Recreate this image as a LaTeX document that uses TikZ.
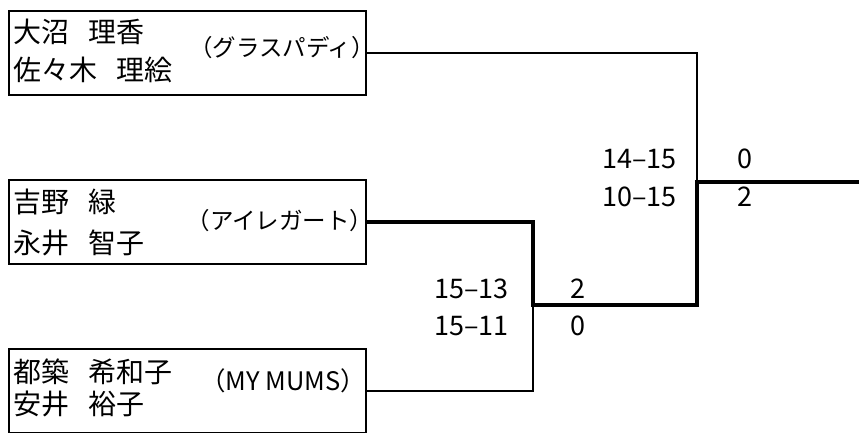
\documentclass[tikz,border=0pt]{standalone}
\usepackage{fontspec}
\setmainfont{Noto Sans CJK JP}
\begin{document}
\begin{tikzpicture}[x=1pt,y=-1pt,
  teambox/.style={draw,line width=2.2pt,minimum width=357pt,minimum height=84pt,anchor=north west,inner sep=0pt},
  namet/.style={anchor=west,font=\fontsize{28}{32}\selectfont,inner sep=0pt},
  teamt/.style={anchor=center,font=\fontsize{23.5}{27}\selectfont,inner sep=0pt},
  scoret/.style={font=\fontsize{27}{30}\selectfont,inner sep=0pt},
  thinline/.style={line width=2pt},
  winline/.style={line width=4.5pt,line cap=rect}]
\useasboundingbox (0,0) rectangle (859,432);
% boxes
\node[teambox] (b1) at (8,10) {};
\node[teambox] (b2) at (8,179) {};
\node[teambox] (b3) at (8,348) {};
% names
\node[namet] (n1a) at (13,32) {大沼\hspace{0.7em}理香};
\node[namet] (n1b) at (13,70) {佐々木\hspace{0.7em}理絵};
\node[teamt] (t1) at (282,48) {（グラスパディ）};
\node[namet] (n2a) at (13,202) {吉野\hspace{0.7em}緑};
\node[namet] (n2b) at (13,243) {永井\hspace{0.7em}智子};
\node[teamt] (t2) at (280,221) {（アイレガート）};
\node[namet] (n3a) at (13,372) {都築\hspace{0.7em}希和子};
\node[namet] (n3b) at (13,404) {安井\hspace{0.7em}裕子};
\node[teamt,font=\fontsize{25.5}{29}\selectfont] (t3) at (283,381) {（MY MUMS）};
% bracket points
\coordinate (p1) at (697,52);
\coordinate (m1) at (697,182);
\coordinate (p2) at (533,222);
\coordinate (m2) at (533,305);
\coordinate (p3) at (533,390);
\coordinate (q2) at (697,305);
\coordinate (fin) at (859,182);
% connectors
\draw[thinline] (b1.east) -- (b1.east -| p1) -- (m1);
\draw[thinline] (b3.east) -- (b3.east -| p3) -- (m2);
\draw[winline] (b2.east) -- (b2.east -| p2) -- (m2) -- (q2) -- (m1) -- (fin);
% scores
\node[scoret,anchor=east] (s1) at (677,159) {14‒15};
\node[scoret,anchor=east] (s2) at (677,197) {10‒15};
\node[scoret] (w1) at (745,159) {0};
\node[scoret] (w2) at (745,197) {2};
\node[scoret,anchor=east] (s3) at (509,289) {15‒13};
\node[scoret,anchor=east] (s4) at (509,326) {15‒11};
\node[scoret] (w3) at (578,289) {2};
\node[scoret] (w4) at (578,326) {0};
\end{tikzpicture}
\end{document}
